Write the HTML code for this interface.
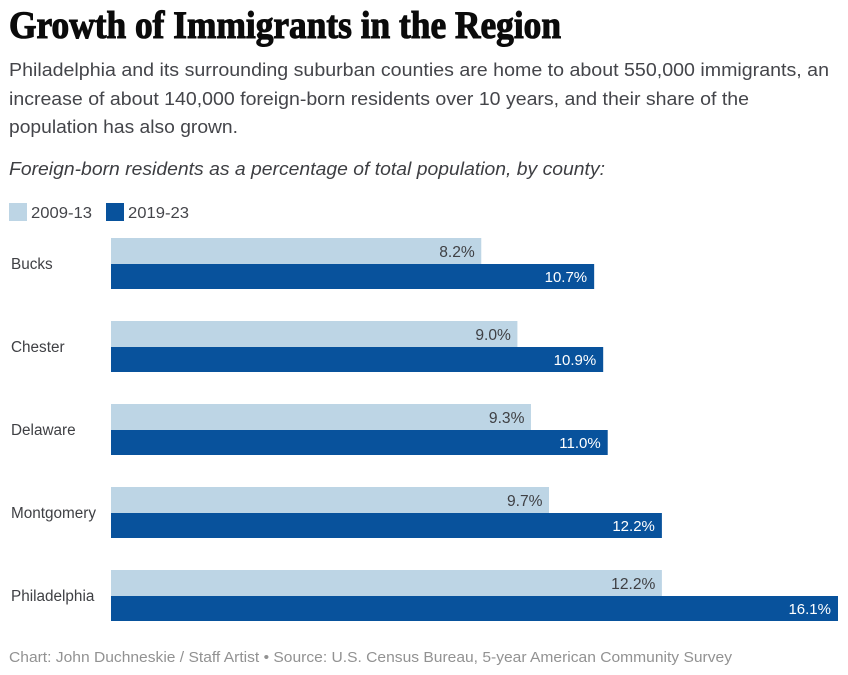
<!DOCTYPE html>
<html lang="en">
<head>
<meta charset="utf-8">
<title>Growth of Immigrants in the Region</title>
<style>
html,body{margin:0;padding:0;background:#fff;}
svg{display:block;font-family:"Liberation Sans",sans-serif;}
</style>
</head>
<body>
<svg id="chart" xmlns="http://www.w3.org/2000/svg" width="848" height="675" viewBox="0 0 848 675">
  <rect x="0" y="0" width="848" height="675" fill="#ffffff"/>
  <text x="9" y="38" font-family="'Liberation Serif',serif" font-weight="700" font-size="39" fill="#0b0b0b" stroke="#0b0b0b" stroke-width="1.1" textLength="552" lengthAdjust="spacingAndGlyphs">Growth of Immigrants in the Region</text>
  <g font-size="18.5" fill="#44454a">
    <text x="9" y="76" textLength="820" lengthAdjust="spacingAndGlyphs">Philadelphia and its surrounding suburban counties are home to about 550,000 immigrants, an</text>
    <text x="9" y="105" textLength="740" lengthAdjust="spacingAndGlyphs">increase of about 140,000 foreign-born residents over 10 years, and their share of the</text>
    <text x="9" y="133" textLength="229" lengthAdjust="spacingAndGlyphs">population has also grown.</text>
  </g>
  <text x="9" y="175" font-size="18.5" font-style="italic" fill="#3d3e42" textLength="596" lengthAdjust="spacingAndGlyphs">Foreign-born residents as a percentage of total population, by county:</text>
  <g font-size="15.5" fill="#44454a">
    <rect x="9" y="203" width="18" height="18" fill="#bdd5e5"/>
    <text x="31" y="218" textLength="61" lengthAdjust="spacingAndGlyphs">2009-13</text>
    <rect x="106" y="203" width="18" height="18" fill="#08529c"/>
    <text x="128" y="218" textLength="61" lengthAdjust="spacingAndGlyphs">2019-23</text>
  </g>
  <g id="plot"></g>
  <text x="9" y="662" font-size="14.5" fill="#929292" textLength="723" lengthAdjust="spacingAndGlyphs">Chart: John Duchneskie / Staff Artist • Source: U.S. Census Bureau, 5-year American Community Survey</text>
</svg>
<script>
const counties = ["Bucks", "Chester", "Delaware", "Montgomery", "Philadelphia"];
const share2009 = [8.2, 9.0, 9.3, 9.7, 12.2];
const share2019 = [10.7, 10.9, 11.0, 12.2, 16.1];

const NS = "http://www.w3.org/2000/svg";
const plot = document.getElementById("plot");
const xLeft = 111;
const xPerUnit = 727 / 16.1;
const rowTop = 238;
const rowStep = 83;
const xScale = function (v) { return xLeft + v * xPerUnit; };
const yScale = function (i) { return rowTop + i * rowStep; };
const slug = function (s) { return s.toLowerCase(); };

function make(tag, attrs, content) {
  const el = document.createElementNS(NS, tag);
  Object.keys(attrs).forEach(function (k) { el.setAttribute(k, attrs[k]); });
  if (content !== undefined) el.textContent = content;
  plot.appendChild(el);
  return el;
}

counties.forEach(function (county, i) {
  const y = yScale(i);
  const c = slug(county);

  const label = make("text", { x: 11, y: y + 31, "font-size": 15.3, fill: "#3f4044" }, county);
  
  

  const lightBar = make("rect", { x: xLeft, y: y, width: xScale(share2009[i]) - xLeft, height: 26, fill: "#bdd5e5" });
  
  

  const darkBar = make("rect", { x: xLeft, y: y + 26, width: xScale(share2019[i]) - xLeft, height: 25, fill: "#08529c" });
  
  

  const lightValue = make("text", { x: xScale(share2009[i]) - 6.5, y: y + 19, "font-size": 15.6, fill: "#3f4044", "text-anchor": "end" }, share2009[i].toFixed(1) + "%");
  
  

  const darkValue = make("text", { x: xScale(share2019[i]) - 7, y: y + 44, "font-size": 15, fill: "#ffffff", "text-anchor": "end" }, share2019[i].toFixed(1) + "%");
  
  
});
</script>
</body>
</html>
